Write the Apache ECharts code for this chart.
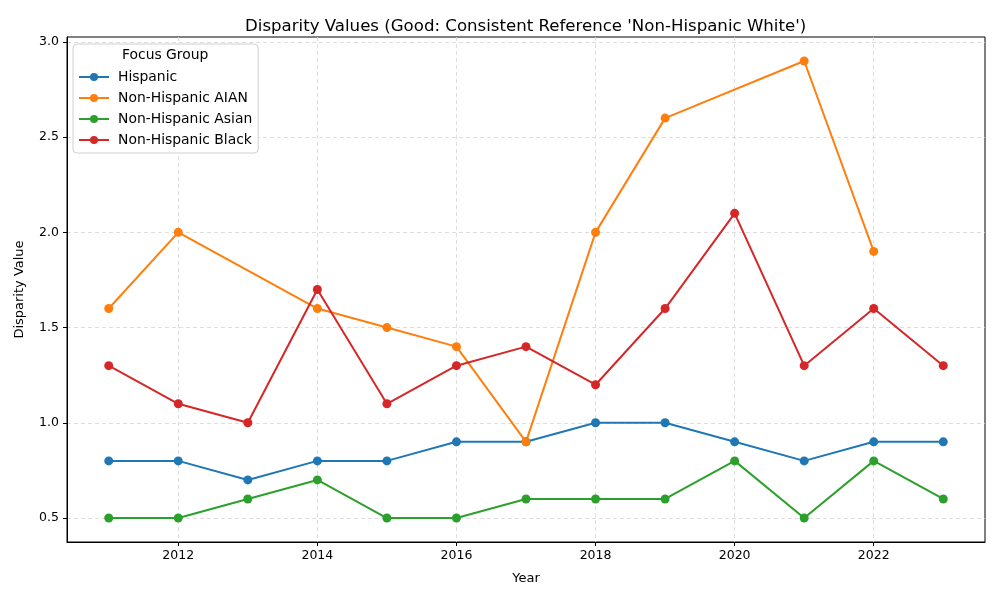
<!DOCTYPE html>
<html>
<head>
<meta charset="utf-8">
<script src="https://cdn.jsdelivr.net/npm/echarts@6/dist/echarts.min.js"></script>
<style>
  html, body { margin: 0; padding: 0; background: #fff; }
  #chart { width: 1000px; height: 600px; }
</style>
</head>
<body>
<div id="chart"></div>
<script>
// data
const years = [2011, 2012, 2013, 2014, 2015, 2016, 2017, 2018, 2019, 2020, 2021, 2022, 2023];
const hispanic = [0.8, 0.8, 0.7, 0.8, 0.8, 0.9, 0.9, 1.0, 1.0, 0.9, 0.8, 0.9, 0.9];
// AIAN has no value for 2013, 2020, 2023
const aianYears = [2011, 2012, 2014, 2015, 2016, 2017, 2018, 2019, 2021, 2022];
const aian = [1.6, 2.0, 1.6, 1.5, 1.4, 0.9, 2.0, 2.6, 2.9, 1.9];
const asian = [0.5, 0.5, 0.6, 0.7, 0.5, 0.5, 0.6, 0.6, 0.6, 0.8, 0.5, 0.8, 0.6];
const black = [1.3, 1.1, 1.0, 1.7, 1.1, 1.3, 1.4, 1.2, 1.6, 2.1, 1.3, 1.6, 1.3];

const xTicks = [2012, 2014, 2016, 2018, 2020, 2022];
const yTicks = [0.5, 1.0, 1.5, 2.0, 2.5, 3.0];

const pair = (xs, ys) => xs.map((x, i) => [x, ys[i]]);

const font = 'DejaVu Sans';

function lineSeries(name, color, data) {
  return {
    name: name,
    type: 'line',
    data: data,
    color: color,
    symbol: 'circle',
    symbolSize: 9,
    lineStyle: { width: 2, color: color },
    itemStyle: { color: color },
    animation: false
  };
}

const chart = echarts.init(document.getElementById('chart'), null, { renderer: 'canvas' });

chart.setOption({
  backgroundColor: '#fff',
  textStyle: { fontFamily: font },
  title: {
    text: "Disparity Values (Good: Consistent Reference 'Non-Hispanic White')",
    left: 240,
    top: 13,
    textStyle: { fontFamily: font, fontSize: 16.6, fontWeight: 'normal', color: '#000' }
  },
  grid: {
    left: 67, right: 15, top: 37, bottom: 58,
    show: true, borderColor: '#000', borderWidth: 1, backgroundColor: 'transparent'
  },
  legend: {
    orient: 'vertical',
    left: 73,
    top: 44,
    padding: [26, 6, 6, 5],
    itemWidth: 30,
    itemHeight: 10,
    itemGap: 7,
    borderColor: '#d0d0d0',
    borderWidth: 1,
    borderRadius: 4,
    backgroundColor: 'rgba(255,255,255,0.8)',
    textStyle: { fontFamily: font, fontSize: 13.9, color: '#000', padding: [0, 0, 0, 4] },
    data: ['Hispanic', 'Non-Hispanic AIAN', 'Non-Hispanic Asian', 'Non-Hispanic Black']
  },
  graphic: [{
    type: 'text',
    left: 122,
    top: 48,
    z: 100,
    style: { text: 'Focus Group', font: '13.9px "DejaVu Sans"', fill: '#000' }
  }],
  xAxis: {
    type: 'value',
    min: 2010.4,
    max: 2023.6,
    name: 'Year',
    nameLocation: 'middle',
    nameGap: 30,
    nameTextStyle: { fontFamily: font, fontSize: 13, color: '#000' },
    axisLine: { show: true, onZero: false, lineStyle: { color: '#000', width: 1 } },
    axisTick: { show: true, length: 4, customValues: xTicks, lineStyle: { color: '#000' } },
    axisLabel: {
      customValues: xTicks, fontFamily: font, fontSize: 12.5, color: '#000', margin: 7,
      formatter: v => String(v)
    },
    splitLine: { show: true, lineStyle: { type: [4, 3], color: '#d6d6d6', width: 0.8 } }
  },
  yAxis: {
    type: 'value',
    min: 0.374,
    max: 3.026,
    name: 'Disparity Value',
    nameLocation: 'middle',
    nameGap: 41,
    nameTextStyle: { fontFamily: font, fontSize: 13, color: '#000' },
    axisLine: { show: true, onZero: false, lineStyle: { color: '#000', width: 1 } },
    axisTick: { show: true, length: 4, customValues: yTicks, lineStyle: { color: '#000' } },
    axisLabel: {
      customValues: yTicks, fontFamily: font, fontSize: 12.5, color: '#000', margin: 8,
      formatter: v => v.toFixed(1)
    },
    splitLine: { show: true, lineStyle: { type: [4, 3], color: '#d6d6d6', width: 0.8 } }
  },
  series: [
    lineSeries('Hispanic', '#1f77b4', pair(years, hispanic)),
    lineSeries('Non-Hispanic AIAN', '#ff7f0e', pair(aianYears, aian)),
    lineSeries('Non-Hispanic Asian', '#2ca02c', pair(years, asian)),
    lineSeries('Non-Hispanic Black', '#d62728', pair(years, black))
  ]
});
</script>
</body>
</html>
